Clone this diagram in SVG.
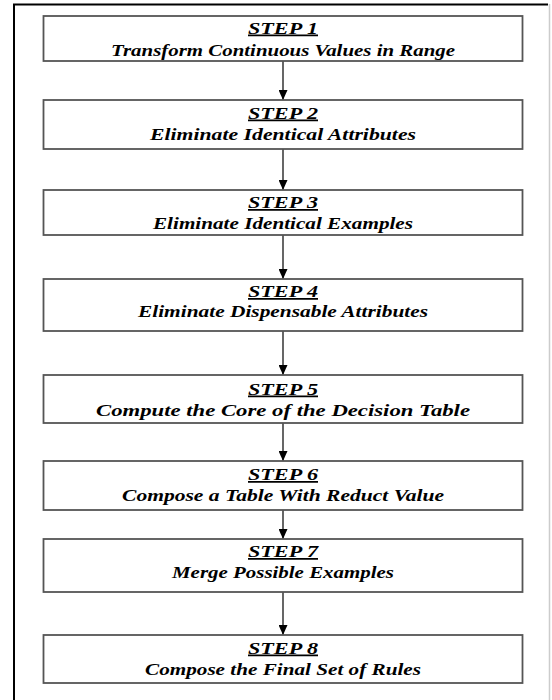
<svg xmlns="http://www.w3.org/2000/svg" width="552" height="700" viewBox="0 0 552 700">
<defs>
<style>
.box{fill:#fff;stroke:#555;stroke-width:1.8}
.t{font-family:"Liberation Serif","Times New Roman",serif;font-weight:bold;font-style:italic;font-size:17.5px;text-anchor:middle;fill:#000}
.u{text-decoration:underline}
.c{stroke:#000;stroke-width:1.2;fill:none;marker-end:url(#ah)}
</style>
<marker id="ah" markerWidth="10" markerHeight="9" refX="10" refY="4.5" orient="auto" markerUnits="userSpaceOnUse">
<path d="M0,0 L10,4.5 L0,9 Z" fill="#000"/>
</marker>
</defs>
<rect x="0" y="0" width="552" height="700" fill="#fff"/>
<path d="M14,701 L14,4.5 L548,4.5" fill="none" stroke="#000" stroke-width="2"/>
<line x1="549.5" y1="4" x2="549.5" y2="700" stroke="#ccc" stroke-width="1.5"/>
<g id="connectors">
<line class="c" x1="283" y1="61" x2="283" y2="100"/>
<line class="c" x1="283" y1="149" x2="283" y2="190"/>
<line class="c" x1="283" y1="235" x2="283" y2="279"/>
<line class="c" x1="283" y1="331" x2="283" y2="375"/>
<line class="c" x1="283" y1="423" x2="283" y2="461"/>
<line class="c" x1="283" y1="510" x2="283" y2="539"/>
<line class="c" x1="283" y1="592" x2="283" y2="635"/>
</g>
<g id="step1"><rect class="box" x="43.5" y="16" width="479" height="45"/>
<text class="t u" x="283" y="33.5" textLength="70" lengthAdjust="spacingAndGlyphs">STEP 1</text><text class="t" x="283" y="55.5" textLength="344" lengthAdjust="spacingAndGlyphs">Transform Continuous Values in Range</text></g>
<g id="step2"><rect class="box" x="43.5" y="100" width="479" height="49"/>
<text class="t u" x="283" y="118.5" textLength="70" lengthAdjust="spacingAndGlyphs">STEP 2</text><text class="t" x="283" y="139.5" textLength="266" lengthAdjust="spacingAndGlyphs">Eliminate Identical Attributes</text></g>
<g id="step3"><rect class="box" x="43.5" y="190" width="479" height="45"/>
<text class="t u" x="283" y="208" textLength="70" lengthAdjust="spacingAndGlyphs">STEP 3</text><text class="t" x="283" y="228.5" textLength="260" lengthAdjust="spacingAndGlyphs">Eliminate Identical Examples</text></g>
<g id="step4"><rect class="box" x="43.5" y="279" width="479" height="52"/>
<text class="t u" x="283" y="297" textLength="70" lengthAdjust="spacingAndGlyphs">STEP 4</text><text class="t" x="283" y="317" textLength="290" lengthAdjust="spacingAndGlyphs">Eliminate Dispensable Attributes</text></g>
<g id="step5"><rect class="box" x="43.5" y="375" width="479" height="48"/>
<text class="t u" x="283" y="394.5" textLength="70" lengthAdjust="spacingAndGlyphs">STEP 5</text><text class="t" x="283" y="415.5" textLength="374" lengthAdjust="spacingAndGlyphs">Compute the Core of the Decision Table</text></g>
<g id="step6"><rect class="box" x="43.5" y="461" width="479" height="49"/>
<text class="t u" x="283" y="480" textLength="70" lengthAdjust="spacingAndGlyphs">STEP 6</text><text class="t" x="283" y="501" textLength="322" lengthAdjust="spacingAndGlyphs">Compose a Table With Reduct Value</text></g>
<g id="step7"><rect class="box" x="43.5" y="539" width="479" height="53"/>
<text class="t u" x="283" y="557" textLength="70" lengthAdjust="spacingAndGlyphs">STEP 7</text><text class="t" x="283" y="578" textLength="222" lengthAdjust="spacingAndGlyphs">Merge Possible Examples</text></g>
<g id="step8"><rect class="box" x="43.5" y="635" width="479" height="48"/>
<text class="t u" x="283" y="653.5" textLength="70" lengthAdjust="spacingAndGlyphs">STEP 8</text><text class="t" x="283" y="674.5" textLength="276" lengthAdjust="spacingAndGlyphs">Compose the Final Set of Rules</text></g>
</svg>
